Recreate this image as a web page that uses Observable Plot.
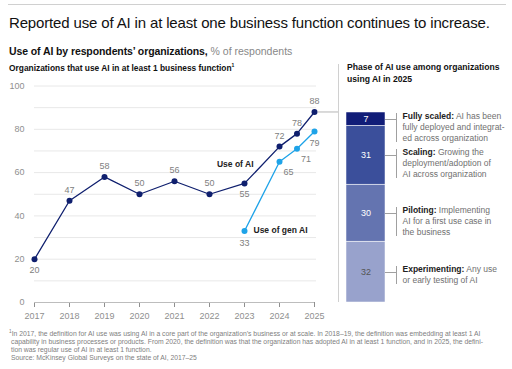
<!DOCTYPE html>
<html><head><meta charset="utf-8">
<script src="https://cdn.jsdelivr.net/npm/d3@7"></script>
<script src="https://cdn.jsdelivr.net/npm/@observablehq/plot@0.6"></script>
<style>
html,body{margin:0;padding:0;background:#fff;}
body{font-family:"Liberation Sans",Arial,sans-serif;}
#wrap{position:relative;width:512px;height:369px;overflow:hidden;}
.abs{position:absolute;white-space:nowrap;}
#rule{left:8px;top:4px;width:498px;height:0;border-top:1px solid #d0d0d0;}
#title{left:9px;top:14px;font-size:15px;color:#111;letter-spacing:-0.15px;}
#sub{left:9px;top:44.5px;font-size:10.5px;color:#111;}
#sub b{font-weight:bold;letter-spacing:-0.1px;}
#sub span{color:#888;}
#lhead{left:9px;top:62px;font-size:8.4px;font-weight:bold;color:#111;}
#rhead{left:347px;top:62px;font-size:8.6px;font-weight:bold;color:#111;line-height:11.5px;}
#foot{left:9px;top:328px;font-size:6.8px;color:#808080;line-height:7.9px;}
#foot .ind{padding-left:2px;}
#conn{left:0;top:0;width:512px;height:369px;z-index:10;pointer-events:none;}
#conn div{position:absolute;}
</style></head>
<body><div id="wrap">
<div id="rule" class="abs"></div>
<div id="title" class="abs">Reported use of AI in at least one business function continues to increase.</div>
<div id="sub" class="abs"><b>Use of AI by respondents’ organizations,</b> <span>% of respondents</span></div>
<div id="lhead" class="abs">Organizations that use AI in at least 1 business function<sup style="font-size:5px">1</sup></div>
<div id="rhead" class="abs">Phase of AI use among organizations<br>using AI in 2025</div>
<div id="left" class="abs" style="left:0;top:78px"></div>
<div id="right" class="abs" style="left:330px;top:60px"></div>
<div id="foot" class="abs"><sup style="font-size:4.8px">1</sup>In 2017, the definition for AI use was using AI in a core part of the organization’s business or at scale. In 2018–19, the definition was embedding at least 1 AI<br><span class="ind">capability in business processes or products. From 2020, the definition was that the organization has adopted AI in at least 1 function, and in 2025, the defini-</span><br><span class="ind">tion was regular use of AI in at least 1 function.</span><br><span class="ind">Source: McKinsey Global Surveys on the state of AI, 2017–25</span></div>
<div id="conn" class="abs"></div>
</div>
<script>
// ---- data ----
const surveyYears = [2017, 2018, 2019, 2020, 2021, 2022, 2023, 2024, 2024.5, 2025];
const aiUse = [20, 47, 58, 50, 56, 50, 55, 72, 78, 88];
const genAiYears = [2023, 2024, 2024.5, 2025];
const genAiUse = [33, 65, 71, 79];
const tickYears = [2017, 2018, 2019, 2020, 2021, 2022, 2023, 2024, 2025];
const yTicks = [0, 20, 40, 60, 80, 100];
const gridValues = [10, 20, 30, 40, 50, 60, 70, 80, 90, 100];
const phases = ["Experimenting", "Piloting", "Scaling", "Fully scaled"];
const phaseShares = [32, 30, 31, 7];
const phaseNotes = [
  "Experimenting: Any use\nor early testing of AI",
  "Piloting: Implementing\nAI for a first use case in\nthe business",
  "Scaling: Growing the\ndeployment/adoption of\nAI across organization",
  "Fully scaled: AI has been\nfully deployed and integrat-\ned across organization"
];
const phaseColors = ["#98a2cc", "#6474b0", "#3b4f9b", "#111d78"];

const NAVY = "#0f1f6e", CYAN = "#1ea3e8", FONT = "Liberation Sans, Arial, sans-serif";
const CONNECT = "#a0a0a0";

const ai = surveyYears.map((x, i) => ({x, v: aiUse[i], i}));
const gen = genAiYears.map((x, i) => ({x, v: genAiUse[i], i}));

const R = {width: 182, height: 268, marginTop: 52, marginBottom: 26, marginLeft: 16, marginRight: 127};
const ends = Array.from(d3.cumsum(phaseShares));
const phaseData = phases.map((p, i) => ({
  phase: p, value: phaseShares[i], mid: ends[i] - phaseShares[i] / 2,
  note: phaseNotes[i], lines: phaseNotes[i].split("\n").length
}));

// label placement (in code)
const aiBelow = new Set([0, 6]);
const genRight = new Set([1, 2]);

const left = Plot.plot({
  width: 340, height: 250,
  marginTop: 7.5, marginBottom: 26, marginLeft: 34, marginRight: 26,
  style: {fontFamily: FONT, fontSize: "9px", color: "#8f8f8f", background: "transparent", overflow: "visible"},
  x: {domain: [2017, 2025], ticks: tickYears, tickFormat: "d", tickSize: 5, tickPadding: 5, label: null},
  y: {domain: [0, 100], ticks: yTicks, tickSize: 0, tickPadding: 10, label: null},
  marks: [
    Plot.ruleY(gridValues, {stroke: "#e8e8e8", strokeWidth: 1, insetRight: -2}),
    Plot.ruleY([0], {stroke: "#bdbdbd"}),
    Plot.ruleY([aiUse[aiUse.length - 1]], {x1: surveyYears[surveyYears.length - 1], x2: surveyYears[surveyYears.length - 1], insetLeft: 4, insetRight: -24, stroke: "#b5b5b5"}),
    Plot.line(ai, {x: "x", y: "v", stroke: NAVY, strokeWidth: 1.3}),
    Plot.dot(ai, {x: "x", y: "v", r: 3, fill: NAVY}),
    Plot.line(gen, {x: "x", y: "v", stroke: CYAN, strokeWidth: 1.3}),
    Plot.dot(gen, {x: "x", y: "v", r: 3, fill: CYAN}),
    Plot.text(ai.filter(d => !aiBelow.has(d.i)), {x: "x", y: "v", text: d => String(d.v), dy: -11, fill: "#808080", fontSize: 9}),
    Plot.text(ai.filter(d => aiBelow.has(d.i)), {x: "x", y: "v", text: d => String(d.v), dy: 11, fill: "#808080", fontSize: 9}),
    Plot.text(gen.filter(d => genRight.has(d.i)), {x: "x", y: "v", text: d => String(d.v), dx: 9, dy: 10, fill: "#808080", fontSize: 9}),
    Plot.text(gen.filter(d => !genRight.has(d.i)), {x: "x", y: "v", text: d => String(d.v), dy: 12, fill: "#808080", fontSize: 9}),
    Plot.text([ai[7]], {x: "x", y: "v", text: () => "Use of AI", dx: -26, dy: 18, textAnchor: "end", fill: "#222", fontWeight: "bold", fontSize: 8.5}),
    Plot.text([gen[0]], {x: "x", y: "v", text: () => "Use of gen AI", dx: 9, dy: -1, textAnchor: "start", fill: "#222", fontWeight: "bold", fontSize: 8.5})
  ]
});
document.getElementById("left").appendChild(left);

const right = Plot.plot({
  ...R,
  style: {fontFamily: FONT, fontSize: "9px", background: "transparent", overflow: "visible"},
  x: {domain: [0, 1], axis: null},
  y: {domain: [0, 100], axis: null},
  color: {domain: phases, range: phaseColors},
  marks: [
    Plot.ruleX([0], {dx: -8, insetTop: -48, stroke: "#d0d0d0"}),
    Plot.rectY(phaseData, {x1: 0, x2: 1, y: "value", fill: "phase", stroke: "white", strokeWidth: 0.5}),
    Plot.text(phaseData, {x: 0.5, y: "mid", text: d => String(d.value), fill: d => d.phase === "Experimenting" ? "#555" : "white", fontSize: 9}),
    Plot.text(phaseData, {y: "mid", x: 1, text: "note", dx: 17, dy: -8, textAnchor: "start", lineAnchor: "top", lineHeight: 1.3, fill: "#707070", fontSize: 8.5})
  ]
});
document.getElementById("right").appendChild(right);

// connectors from each bar segment to its note, placed through the plot's own scales
const xs = right.scale("x"), ys = right.scale("y");
const conn = document.getElementById("conn");
phaseData.forEach(d => {
  const px = 330 + xs.apply(1), py = Math.round(60 + ys.apply(d.mid));
  const h = document.createElement("div");
  h.style.cssText = `left:${px}px;top:${py}px;width:11px;height:1px;background:${CONNECT}`;
  const v = document.createElement("div");
  v.style.cssText = `left:${px + 11}px;top:${py - 6}px;width:1px;height:${d.lines * 11 - 4}px;background:${CONNECT}`;
  conn.appendChild(h); conn.appendChild(v);
});

// make the phase name bold
const ns = "http://www.w3.org/2000/svg";
right.querySelectorAll("text").forEach(t => {
  const first = t.querySelector("tspan") || t;
  const s = first.textContent;
  const p = phases.find(p => s.startsWith(p + ":"));
  if (!p) return;
  const k = p.length + 1;
  first.textContent = "";
  const b = document.createElementNS(ns, "tspan");
  b.setAttribute("font-weight", "bold"); b.setAttribute("fill", "#222");
  b.textContent = s.slice(0, k);
  const r = document.createElementNS(ns, "tspan");
  r.textContent = s.slice(k);
  first.appendChild(b); first.appendChild(r);
});
</script>
</body></html>
